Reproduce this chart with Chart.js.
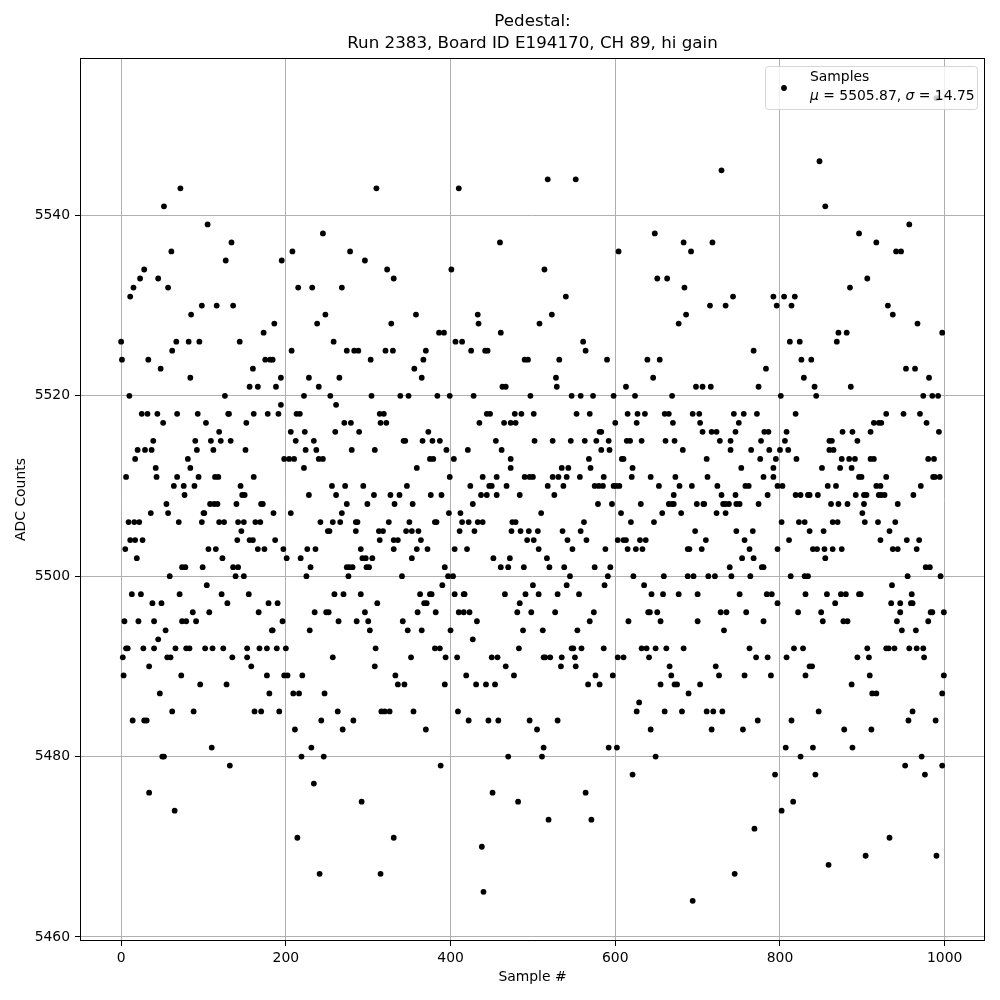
<!DOCTYPE html>
<html>
<head>
<meta charset="utf-8">
<script src="https://cdn.jsdelivr.net/npm/chart.js@4.4.0/dist/chart.umd.min.js"></script>
<style>
  body { margin: 0; background: #fff; }
  #wrap { width: 1000px; height: 1000px; }
</style>
</head>
<body>
<div id="wrap"><canvas id="myChart" width="1000" height="1000"></canvas></div>
<script>
// titles / labels
const titleLines = ['Pedestal:', 'Run 2383, Board ID E194170, CH 89, hi gain']
const xLabel = 'Sample #'
const yLabel = 'ADC Counts'
const seriesName = 'Samples'
const meanText = '5505.87'
const sigmaText = '14.75'

// axes
const xTicks = [0, 200, 400, 600, 800, 1000]
const yTicks = [5460, 5480, 5500, 5520, 5540]
const xRange = [-49.95, 1048.95]
const yRange = [5459.55, 5557.45]

// ADC value of each row of dots, top to bottom
const adcLevels = [
  5553, 5546, 5545, 5544, 5543, 5541, 5539, 5538, 5537, 5536,
  5535, 5534, 5533, 5532, 5531, 5530, 5529, 5528, 5527, 5526,
  5525, 5524, 5523, 5522, 5521, 5520, 5519, 5518, 5517, 5516,
  5515, 5514, 5513, 5512, 5511, 5510, 5509, 5508, 5507, 5506,
  5505, 5504, 5503, 5502, 5501, 5500, 5499, 5498, 5497, 5496,
  5495, 5494, 5493, 5492, 5491, 5490, 5489, 5488, 5487, 5486,
  5485, 5484, 5483, 5481, 5480, 5479, 5478, 5477, 5476, 5475,
  5474, 5473, 5472, 5471, 5470, 5469, 5468, 5467, 5465, 5464
]
// sample numbers found on each of those rows (same order)
const samplesByLevel = [
  [990],
  [848],
  [729],
  [518, 552],
  [72, 310, 410],
  [52, 855],
  [105, 957],
  [245, 648, 896],
  [134, 460, 683, 718, 917],
  [61, 208, 278, 604, 692, 941, 947],
  [127, 195, 296],
  [28, 323, 401, 514],
  [23, 45, 331, 651, 663, 906],
  [15, 57, 215, 232, 268, 684, 885],
  [11, 540, 743, 792, 805, 818],
  [98, 116, 136, 715, 734, 796, 814, 931],
  [85, 248, 358, 433, 523, 686, 937],
  [186, 238, 328, 434, 508, 677, 967],
  [173, 386, 392, 461, 871, 881, 997],
  [0, 67, 82, 95, 144, 258, 406, 414, 561, 812, 824, 869],
  [62, 207, 274, 283, 288, 321, 330, 370, 425, 442, 445, 564, 768],
  [1, 33, 175, 181, 184, 303, 367, 490, 494, 532, 590, 639, 654, 826, 838],
  [48, 160, 356, 783, 953, 964],
  [84, 194, 228, 265, 365, 528, 646, 829, 981],
  [156, 166, 188, 240, 463, 467, 529, 613, 698, 706, 716, 774, 842, 886],
  [10, 126, 222, 254, 304, 339, 349, 384, 399, 428, 497, 547, 558, 573, 598, 624, 669, 801, 844, 974, 985, 992],
  [194, 261],
  [25, 32, 44, 68, 93, 130, 131, 161, 178, 191, 213, 217, 314, 319, 444, 448, 478, 486, 501, 553, 569, 615, 627, 636, 660, 665, 694, 702, 744, 756, 772, 819, 929, 950, 970],
  [51, 103, 152, 271, 279, 315, 322, 435, 465, 473, 479, 600, 626, 670, 703, 750, 914, 920, 923, 978],
  [119, 206, 223, 260, 289, 373, 581, 583, 706, 717, 723, 746, 781, 786, 808, 876, 888, 910, 993],
  [39, 90, 109, 121, 133, 212, 234, 343, 345, 366, 378, 387, 455, 502, 524, 546, 563, 577, 592, 614, 618, 632, 661, 672, 727, 740, 777, 806, 860, 863, 894],
  [20, 29, 37, 92, 112, 151, 224, 237, 280, 308, 395, 421, 462, 583, 593, 682, 740, 765, 787, 800, 810, 860, 865],
  [17, 81, 198, 204, 210, 240, 245, 375, 379, 404, 473, 568, 608, 610, 711, 776, 795, 820, 875, 884, 891, 910, 914, 980, 987],
  [42, 84, 222, 359, 473, 535, 543, 570, 621, 753, 792, 851, 873, 887],
  [6, 43, 68, 94, 114, 118, 161, 399, 439, 456, 490, 496, 500, 524, 531, 541, 557, 586, 620, 643, 673, 712, 780, 792, 896, 899, 929, 986, 988, 994],
  [64, 76, 89, 145, 256, 272, 294, 347, 424, 447, 450, 468, 518, 537, 575, 580, 585, 598, 601, 605, 653, 678, 693, 724, 758, 762, 797, 803, 858, 868, 917, 922, 971],
  [77, 147, 150, 228, 261, 307, 327, 338, 376, 389, 437, 444, 456, 484, 526, 671, 729, 746, 785, 819, 825, 834, 836, 846, 892, 902, 905, 920, 923, 927, 962],
  [55, 108, 113, 117, 140, 170, 172, 274, 299, 332, 354, 427, 579, 596, 631, 665, 669, 671, 699, 707, 708, 731, 734, 738, 747, 751, 774, 862, 871, 882, 902, 943],
  [36, 57, 100, 101, 185, 206, 268, 398, 412, 510, 607, 657, 680, 723, 734, 900],
  [9, 16, 22, 70, 98, 119, 125, 142, 149, 163, 169, 242, 257, 266, 285, 287, 325, 350, 381, 383, 414, 422, 433, 439, 475, 479, 562, 619, 647, 802, 823, 830, 864, 870, 903, 919, 940],
  [146, 251, 253, 285, 313, 318, 346, 353, 361, 411, 429, 474, 485, 495, 506, 536, 558, 697, 747, 767, 836, 853, 933],
  [11, 17, 26, 141, 156, 160, 187, 314, 331, 336, 364, 493, 501, 542, 565, 603, 610, 613, 630, 637, 710, 757, 811, 922, 954, 969],
  [5, 106, 115, 166, 174, 197, 226, 236, 291, 331, 359, 372, 405, 420, 507, 548, 588, 615, 625, 633, 688, 690, 705, 763, 797, 840, 845, 854, 864, 875, 937, 943, 966],
  [19, 123, 201, 218, 293, 297, 305, 353, 452, 472, 517, 754, 768, 855],
  [74, 78, 99, 136, 142, 230, 274, 277, 281, 298, 301, 393, 461, 470, 489, 520, 538, 575, 594, 739, 778, 780, 977, 982],
  [59, 139, 149, 225, 276, 341, 397, 403, 545, 591, 622, 659, 688, 695, 713, 721, 741, 764, 813, 830, 834, 955, 995],
  [104, 390, 500, 541, 587, 635, 936],
  [13, 24, 71, 122, 155, 259, 270, 291, 363, 375, 377, 405, 416, 417, 466, 491, 507, 530, 556, 644, 658, 677, 700, 751, 784, 790, 831, 857, 874, 880, 896, 898, 960],
  [38, 49, 129, 179, 190, 311, 368, 371, 484, 797, 867, 935, 946, 959, 961],
  [87, 107, 167, 235, 249, 252, 296, 360, 382, 410, 416, 423, 481, 498, 527, 574, 640, 642, 651, 728, 735, 759, 822, 850, 946, 983, 985, 999],
  [4, 21, 40, 74, 79, 91, 196, 264, 286, 300, 342, 432, 569, 616, 655, 700, 780, 852, 877, 882, 942, 980],
  [54, 183, 184, 229, 302, 348, 365, 400, 488, 512, 554, 732, 948, 965],
  [45, 427],
  [6, 8, 27, 40, 66, 79, 83, 102, 111, 124, 153, 168, 177, 189, 200, 309, 381, 387, 483, 547, 549, 559, 586, 632, 638, 649, 662, 683, 763, 817, 828, 906, 929, 932, 939, 957, 966, 974],
  [2, 56, 60, 135, 153, 257, 352, 394, 408, 450, 457, 513, 515, 521, 535, 551, 603, 610, 641, 771, 785, 808, 894, 908, 975],
  [34, 158, 308, 467, 534, 552, 666, 722, 836, 839],
  [3, 73, 177, 198, 202, 220, 333, 419, 477, 576, 597, 668, 726, 757, 789, 831, 909, 999],
  [96, 128, 336, 344, 393, 431, 443, 454, 567, 581, 655, 672, 675, 703, 887],
  [47, 180, 209, 216, 247, 689, 912, 917, 997],
  [629],
  [62, 88, 162, 170, 192, 263, 316, 320, 326, 355, 409, 626, 660, 681, 711, 719, 730, 847, 961],
  [14, 28, 31, 243, 282, 422, 446, 458, 496, 530, 773, 814, 956, 989],
  [211, 269, 370, 505, 643, 717, 755, 878, 911],
  [110, 231, 513, 592, 602, 807, 840, 888],
  [50, 52, 219, 246, 470, 511, 649, 825, 972],
  [132, 388, 952, 997],
  [621, 794, 843, 976],
  [234],
  [34, 451, 564],
  [292, 482, 816],
  [65, 802],
  [519, 571],
  [769],
  [214, 331, 933],
  [438],
  [904, 990],
  [859],
  [241, 315, 745],
  [440],
  [694]
]

var points = []
adcLevels.forEach((level, i) => {
    samplesByLevel[i].forEach(s => points.push({x: s, y: level}))
})

const FONT = 'DejaVu Sans'

// spines, titles and the legend box, drawn the matplotlib way
const framePlugin = {
    id: 'frame',
    afterDraw(chart) {
        const c = chart.ctx
        const a = chart.chartArea
        c.save()
        c.strokeStyle = '#000'
        c.lineWidth = 1
        c.strokeRect(Math.round(a.left) + 0.5, Math.round(a.top) + 0.5,
                     Math.round(a.right - a.left) - 1, Math.round(a.bottom - a.top) - 1)

        const cx = (a.left + a.right) / 2
        c.fillStyle = '#000'
        c.textAlign = 'center'
        c.textBaseline = 'middle'
        c.font = '16.7px "' + FONT + '"'
        c.fillText(titleLines[0], cx, 22)
        c.fillText(titleLines[1], cx, 44)

        c.font = '13.9px "' + FONT + '"'
        c.fillText(xLabel, cx, 977)
        c.save()
        c.translate(21, (a.top + a.bottom) / 2)
        c.rotate(-Math.PI / 2)
        c.fillText(yLabel, 0, 0)
        c.restore()

        // legend
        const lx = 765.5, ly = 66.5, lw = 212, lh = 43
        c.beginPath()
        c.roundRect(lx, ly, lw, lh, 3)
        c.fillStyle = 'rgba(255,255,255,0.8)'
        c.fill()
        c.strokeStyle = 'rgba(204,204,204,0.8)'
        c.stroke()
        c.fillStyle = '#000'
        c.beginPath()
        c.arc(784, 88, 2.9, 0, Math.PI * 2)
        c.fill()
        c.textAlign = 'left'
        c.font = '13.9px "' + FONT + '"'
        c.fillText(seriesName, 810, 77)
        var parts = [
            ['\u03bc', true], [' = ' + meanText + ', ', false],
            ['\u03c3', true], [' = ' + sigmaText, false]
        ]
        var tx = 810
        parts.forEach(p => {
            c.font = (p[1] ? 'italic ' : '') + '13.9px "' + FONT + '"'
            c.fillText(p[0], tx, 96)
            tx += c.measureText(p[0]).width
        })
        c.restore()
    }
}

const axisFont = {family: FONT, size: 13.9}
const ctx = document.getElementById('myChart').getContext('2d')
const myChart = new Chart(ctx, {
    type: 'scatter',
    data: {
        datasets: [{
            label: seriesName,
            data: points,
            pointRadius: 2.9,
            pointHoverRadius: 2.9,
            pointBorderWidth: 0,
            backgroundColor: '#000',
            borderColor: '#000'
        }]
    },
    options: {
        responsive: false,
        animation: false,
        devicePixelRatio: 1,
        layout: {padding: {top: 58, right: 15, left: 0, bottom: 0}},
        plugins: {
            legend: {display: false},
            title: {display: false},
            tooltip: {enabled: false}
        },
        scales: {
            x: {
                type: 'linear',
                min: xRange[0],
                max: xRange[1],
                afterBuildTicks: s => { s.ticks = xTicks.map(v => ({value: v})) },
                afterFit: s => { s.height = 59 },
                grid: {color: '#b0b0b0', lineWidth: 1, tickLength: 5, tickColor: '#000'},
                border: {display: false},
                ticks: {color: '#000', font: axisFont, padding: 4, maxRotation: 0, callback: v => String(v)}
            },
            y: {
                type: 'linear',
                min: yRange[0],
                max: yRange[1],
                afterBuildTicks: s => { s.ticks = yTicks.map(v => ({value: v})) },
                afterFit: s => { s.width = 80 },
                grid: {color: '#b0b0b0', lineWidth: 1, tickLength: 5, tickColor: '#000'},
                border: {display: false},
                ticks: {color: '#000', font: axisFont, padding: 5, callback: v => String(v)}
            }
        }
    },
    plugins: [framePlugin]
})
</script>
</body>
</html>
